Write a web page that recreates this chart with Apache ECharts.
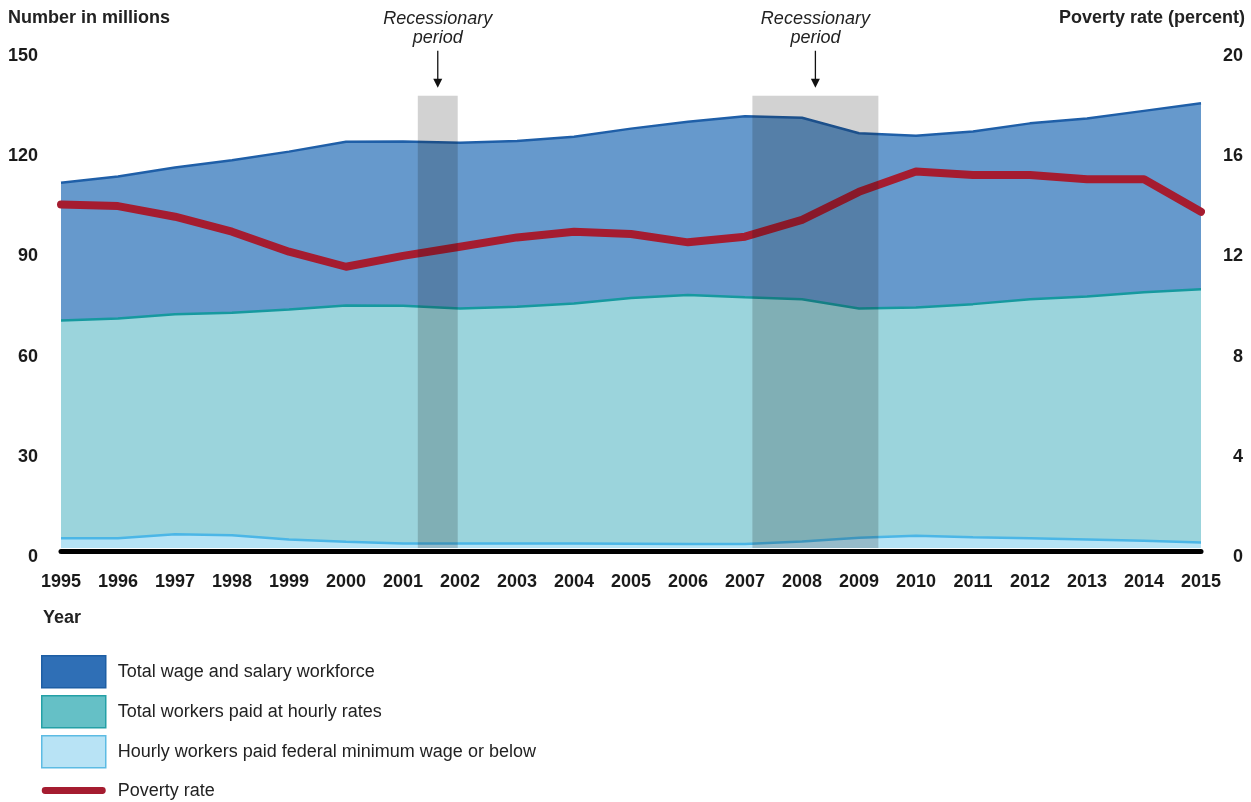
<!DOCTYPE html>
<html>
<head>
<meta charset="utf-8">
<script src="https://cdn.jsdelivr.net/npm/echarts@6/dist/echarts.min.js"></script>
<style>
html,body{margin:0;padding:0;background:#fff;}
#chart{width:1251px;height:802px;}
</style>
</head>
<body>
<div id="chart"></div>
<script>
// ---- data ----
const years = [1995,1996,1997,1998,1999,2000,2001,2002,2003,2004,2005,2006,2007,2008,2009,2010,2011,2012,2013,2014,2015];
const totalWorkforce = [111.1,113.0,115.8,118.0,120.6,123.6,123.7,123.3,123.8,125.1,127.6,129.7,131.4,130.9,126.2,125.4,126.7,129.2,130.7,133.0,135.3];
const hourlyWorkers = [69.2,69.8,71.1,71.6,72.6,73.8,73.7,72.9,73.4,74.4,76.1,77.0,76.3,75.7,72.9,73.2,74.2,75.7,76.5,77.8,78.7];
const minWageWorkers = [2.95,2.95,4.2,3.9,2.6,1.9,1.4,1.4,1.4,1.35,1.3,1.2,1.2,2.0,3.1,3.7,3.3,2.95,2.6,2.2,1.7];
const povertyRate = [13.94,13.87,13.44,12.83,12.02,11.41,11.85,12.22,12.6,12.83,12.74,12.4,12.63,13.31,14.45,15.27,15.13,15.13,14.96,14.96,13.64];
const recessionStart = [2001.26, 2007.13];
const recessionEnd = [2001.96, 2009.34];
const leftTicks = [0, 150, 30];    // min, max, interval
const rightTicks = [0, 20, 4];
const seriesNames = ['Total wage and salary workforce','Total workers paid at hourly rates','Hourly workers paid federal minimum wage or below','Poverty rate'];
const recessionLabel = 'Recessionary';
const recessionLabel2 = 'period';

// ---- build ----
const pairs = arr => years.map((y, i) => [y, arr[i]]);
const FONT = '"Liberation Sans", Arial, sans-serif';
const BAND_TOP = 137.6;
const tickLabel = {fontFamily: FONT, fontSize: 18, fontWeight: 'bold', color: '#1a1a1a'};
const hiddenAxisParts = {axisLine: {show: false}, axisTick: {show: false}, splitLine: {show: false}};

const chart = echarts.init(document.getElementById('chart'), null, {renderer: 'canvas'});
const option = {
  backgroundColor: '#ffffff',
  animation: false,
  textStyle: {fontFamily: FONT},
  title: [
    {text: 'Number in millions', left: 8, top: 8, padding: 0,
     textStyle: {fontFamily: FONT, fontSize: 18, fontWeight: 'bold', color: '#222', lineHeight: 20}},
    {text: 'Poverty rate (percent)', right: 6, top: 8, padding: 0,
     textStyle: {fontFamily: FONT, fontSize: 18, fontWeight: 'bold', color: '#222', lineHeight: 20}},
    {text: 'Year', left: 43, top: 608, padding: 0,
     textStyle: {fontFamily: FONT, fontSize: 18, fontWeight: 'bold', color: '#222', lineHeight: 20}}
  ],
  grid: [
    {left: 61, right: 50, top: 55, bottom: 254, containLabel: false},
    // tick-label grid: the printed scale labels sit slightly lower than the plot baseline
    {left: 61, right: 50, top: 56, bottom: 245, containLabel: false}
  ],
  xAxis: [
    {type: 'value', gridIndex: 0, min: years[0], max: years[years.length - 1], interval: 1,
     offset: 3,
     axisLine: {show: true, onZero: false, lineStyle: {color: '#000', width: 5}},
     axisTick: {show: false}, splitLine: {show: false},
     axisLabel: Object.assign({margin: 22, formatter: v => String(Math.round(v))}, tickLabel)},
    {type: 'value', gridIndex: 1, min: years[0], max: years[years.length - 1], show: false}
  ],
  yAxis: [
    Object.assign({type: 'value', gridIndex: 0, min: leftTicks[0], max: leftTicks[1], interval: leftTicks[2],
      position: 'left', axisLabel: {show: false}}, hiddenAxisParts),
    Object.assign({type: 'value', gridIndex: 0, min: rightTicks[0], max: rightTicks[1], interval: rightTicks[2],
      position: 'right', axisLabel: {show: false}}, hiddenAxisParts),
    Object.assign({type: 'value', gridIndex: 1, min: leftTicks[0], max: leftTicks[1], interval: leftTicks[2],
      position: 'left', axisLabel: Object.assign({margin: 23}, tickLabel)}, hiddenAxisParts),
    Object.assign({type: 'value', gridIndex: 1, min: rightTicks[0], max: rightTicks[1], interval: rightTicks[2],
      position: 'right', axisLabel: Object.assign({margin: 42, align: 'right'}, tickLabel)}, hiddenAxisParts)
  ],
  legend: {
    orient: 'vertical', left: 41, top: 655, padding: 0, height: 220, width: 600,
    itemWidth: 64, itemHeight: 32, itemGap: 6.5,
    selectedMode: false,
    textStyle: {fontFamily: FONT, fontSize: 18, color: '#222', padding: [0, 0, 0, 7]},
    data: [
      {name: seriesNames[0], icon: 'rect', itemStyle: {color: '#2f6fb6', borderColor: '#1d5ea4', borderWidth: 1.5}},
      {name: seriesNames[1], icon: 'rect', itemStyle: {color: '#65c0c6', borderColor: '#24a0a6', borderWidth: 1.5}},
      {name: seriesNames[2], icon: 'rect', itemStyle: {color: '#b8e3f5', borderColor: '#5cbbe3', borderWidth: 1.5}},
      {name: seriesNames[3],
       icon: 'path://M0,0 L1,0 L0,0 Z M3.5,12.5 L62.5,12.5 A3.5,3.5 0 0 1 62.5,19.5 L3.5,19.5 A3.5,3.5 0 0 1 3.5,12.5 Z M0,33 L1,33 L0,33 Z',
       itemStyle: {color: '#a51c30', borderWidth: 0}}
    ]
  },
  series: [
    {name: seriesNames[0], type: 'line', data: pairs(totalWorkforce), z: 2,
     showSymbol: false, symbol: 'none',
     lineStyle: {color: '#1f5fa8', width: 2.5}, itemStyle: {color: '#1f5fa8'},
     areaStyle: {color: '#6699cc', opacity: 1, origin: 'start'}},
    {name: seriesNames[1], type: 'line', data: pairs(hourlyWorkers), z: 3,
     showSymbol: false, symbol: 'none',
     lineStyle: {color: '#16999f', width: 2.5}, itemStyle: {color: '#16999f'},
     areaStyle: {color: '#9bd4dc', opacity: 1, origin: 'start'}},
    {name: seriesNames[2], type: 'line', data: pairs(minWageWorkers), z: 4,
     showSymbol: false, symbol: 'none',
     lineStyle: {color: '#4bb6e6', width: 2.5}, itemStyle: {color: '#4bb6e6'},
     areaStyle: {color: '#b5e3f5', opacity: 1, origin: 'start'}},
    {name: seriesNames[3], type: 'line', yAxisIndex: 1, data: pairs(povertyRate), z: 5,
     showSymbol: false, symbol: 'none',
     lineStyle: {color: '#a51c30', width: 8, cap: 'round', join: 'round'}, itemStyle: {color: '#a51c30'}},
    {name: 'recession', type: 'custom', z: 6, clip: false, silent: true,
     data: recessionStart.map((s, i) => [s, recessionEnd[i]]),
     encode: {x: [0, 1]},
     renderItem: function (params, api) {
       const pBL = api.coord([api.value(0), 0]);
       const pTR = api.coord([api.value(1), BAND_TOP]);
       const cx = (pBL[0] + pTR[0]) / 2;
       const yTop = pTR[1];
       return {
         type: 'group',
         children: [
           {type: 'rect', shape: {x: pBL[0], y: yTop, width: pTR[0] - pBL[0], height: pBL[1] - yTop},
            style: {fill: 'rgba(15,15,15,0.19)'}},
           {type: 'line', shape: {x1: cx, y1: yTop - 45, x2: cx, y2: yTop - 16},
            style: {stroke: '#111', lineWidth: 1.3}},
           {type: 'polygon', shape: {points: [[cx - 4.5, yTop - 17], [cx + 4.5, yTop - 17], [cx, yTop - 8]]},
            style: {fill: '#111'}},
           {type: 'text', x: cx, y: yTop - 77,
            style: {text: recessionLabel, fontFamily: FONT, fontSize: 18, fontStyle: 'italic', fill: '#222', align: 'center', verticalAlign: 'middle'}},
           {type: 'text', x: cx, y: yTop - 58,
            style: {text: recessionLabel2, fontFamily: FONT, fontSize: 18, fontStyle: 'italic', fill: '#222', align: 'center', verticalAlign: 'middle'}}
         ]
       };
     }}
  ]
};
chart.setOption(option);
</script>
</body>
</html>
